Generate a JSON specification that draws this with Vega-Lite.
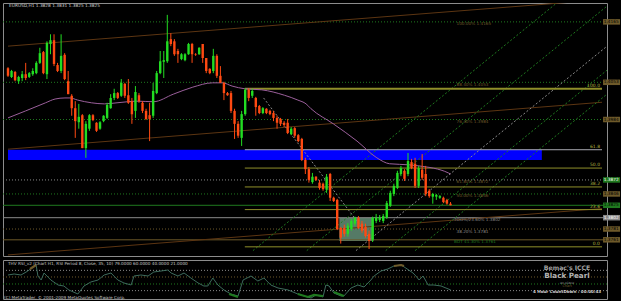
{
  "$schema": "https://vega.github.io/schema/vega-lite/v6.json",
  "background": "#000000",
  "padding": {"left": 2, "top": 2, "right": 0, "bottom": 0},
  "spacing": 2,
  "config": {
    "view": {"stroke": "#8c8c8c", "strokeWidth": 1},
    "axis": {"labelFont": "DejaVu Sans", "labelFontSize": 4.5, "labelColor": "#c8c8c8", "tickColor": "#8c8c8c", "domain": false, "grid": false, "titleFontSize": 1},
    "text": {"font": "DejaVu Sans"}
  },
  "datasets": {
    "candles": [
      {"b":0,"o":1.4079,"h":1.4081,"l":1.4063,"c":1.4065},{"b":1,"o":1.4063,"h":1.4076,"l":1.4061,"c":1.4074},{"b":2,"o":1.4072,"h":1.4074,"l":1.4055,"c":1.4057},{"b":3,"o":1.4055,"h":1.4065,"l":1.4050,"c":1.4063},{"b":4,"o":1.4061,"h":1.4074,"l":1.4055,"c":1.4068},{"b":5,"o":1.4068,"h":1.4089,"l":1.4057,"c":1.4061},{"b":6,"o":1.4063,"h":1.4072,"l":1.4061,"c":1.4070},{"b":7,"o":1.4068,"h":1.4079,"l":1.4065,"c":1.4074},{"b":8,"o":1.4070,"h":1.4092,"l":1.4068,"c":1.4089},{"b":9,"o":1.4089,"h":1.4117,"l":1.4087,"c":1.4107},
      {"b":10,"o":1.4109,"h":1.4111,"l":1.4068,"c":1.4070},{"b":11,"o":1.4068,"h":1.4129,"l":1.4059,"c":1.4126},{"b":12,"o":1.4124,"h":1.4142,"l":1.4105,"c":1.4131},{"b":13,"o":1.4131,"h":1.4142,"l":1.4083,"c":1.4087},{"b":14,"o":1.4085,"h":1.4089,"l":1.4072,"c":1.4074},{"b":15,"o":1.4074,"h":1.4142,"l":1.4070,"c":1.4102},{"b":16,"o":1.4104,"h":1.4107,"l":1.4057,"c":1.4059},{"b":17,"o":1.4055,"h":1.4074,"l":1.4031,"c":1.4031},{"b":18,"o":1.4028,"h":1.4031,"l":1.3991,"c":1.4005},{"b":19,"o":1.4005,"h":1.4018,"l":1.3950,"c":1.3981},
      {"b":20,"o":1.3979,"h":1.4013,"l":1.3967,"c":1.3989},{"b":21,"o":1.3992,"h":1.3994,"l":1.3931,"c":1.3931},{"b":22,"o":1.3931,"h":1.3981,"l":1.3913,"c":1.3976},{"b":23,"o":1.3967,"h":1.3994,"l":1.3963,"c":1.3992},{"b":24,"o":1.3992,"h":1.3994,"l":1.3981,"c":1.3983},{"b":25,"o":1.3978,"h":1.3979,"l":1.3961,"c":1.3963},{"b":26,"o":1.3967,"h":1.3981,"l":1.3965,"c":1.3979},{"b":27,"o":1.3981,"h":1.3992,"l":1.3979,"c":1.3991},{"b":28,"o":1.3987,"h":1.4015,"l":1.3985,"c":1.4011},{"b":29,"o":1.4005,"h":1.4031,"l":1.4004,"c":1.4024},
      {"b":30,"o":1.4024,"h":1.4041,"l":1.4020,"c":1.4033},{"b":31,"o":1.4033,"h":1.4035,"l":1.4022,"c":1.4024},{"b":32,"o":1.4028,"h":1.4059,"l":1.4026,"c":1.4052},{"b":33,"o":1.4050,"h":1.4052,"l":1.4024,"c":1.4028},{"b":34,"o":1.4029,"h":1.4059,"l":1.4013,"c":1.4015},{"b":35,"o":1.4018,"h":1.4024,"l":1.3976,"c":1.3994},{"b":36,"o":1.4000,"h":1.4046,"l":1.3987,"c":1.4035},{"b":37,"o":1.4029,"h":1.4033,"l":1.4015,"c":1.4018},{"b":38,"o":1.4015,"h":1.4018,"l":1.3996,"c":1.4000},{"b":39,"o":1.4000,"h":1.4004,"l":1.3983,"c":1.3985},
      {"b":40,"o":1.3992,"h":1.4015,"l":1.3944,"c":1.3985},{"b":41,"o":1.3991,"h":1.4052,"l":1.3987,"c":1.4037},{"b":42,"o":1.4033,"h":1.4074,"l":1.4031,"c":1.4070},{"b":43,"o":1.4070,"h":1.4111,"l":1.4068,"c":1.4092},{"b":44,"o":1.4091,"h":1.4111,"l":1.4061,"c":1.4094},{"b":45,"o":1.4092,"h":1.4178,"l":1.4089,"c":1.4129},{"b":46,"o":1.4133,"h":1.4144,"l":1.4120,"c":1.4124},{"b":47,"o":1.4129,"h":1.4133,"l":1.4102,"c":1.4105},{"b":48,"o":1.4111,"h":1.4115,"l":1.4089,"c":1.4105},{"b":49,"o":1.4096,"h":1.4107,"l":1.4094,"c":1.4105},
      {"b":50,"o":1.4094,"h":1.4107,"l":1.4092,"c":1.4105},{"b":51,"o":1.4105,"h":1.4126,"l":1.4104,"c":1.4124},{"b":52,"o":1.4124,"h":1.4126,"l":1.4089,"c":1.4105},{"b":53,"o":1.4105,"h":1.4107,"l":1.4102,"c":1.4104},{"b":54,"o":1.4105,"h":1.4118,"l":1.4104,"c":1.4117},{"b":55,"o":1.4124,"h":1.4124,"l":1.4089,"c":1.4098},{"b":56,"o":1.4098,"h":1.4098,"l":1.4070,"c":1.4074},{"b":57,"o":1.4078,"h":1.4079,"l":1.4068,"c":1.4070},{"b":58,"o":1.4074,"h":1.4115,"l":1.4070,"c":1.4102},{"b":59,"o":1.4102,"h":1.4105,"l":1.4061,"c":1.4065},
      {"b":60,"o":1.4065,"h":1.4083,"l":1.4052,"c":1.4052},{"b":61,"o":1.4052,"h":1.4054,"l":1.4020,"c":1.4033},{"b":62,"o":1.4033,"h":1.4035,"l":1.4028,"c":1.4029},{"b":63,"o":1.4033,"h":1.4037,"l":1.3996,"c":1.4000},{"b":64,"o":1.4000,"h":1.4004,"l":1.3948,"c":1.3976},{"b":65,"o":1.3976,"h":1.3981,"l":1.3950,"c":1.3954},{"b":66,"o":1.3950,"h":1.4000,"l":1.3935,"c":1.3994},{"b":67,"o":1.3994,"h":1.4042,"l":1.3991,"c":1.4039},{"b":68,"o":1.4039,"h":1.4042,"l":1.4018,"c":1.4024},{"b":69,"o":1.4028,"h":1.4041,"l":1.4024,"c":1.4037},
      {"b":70,"o":1.4024,"h":1.4026,"l":1.3991,"c":1.4007},{"b":71,"o":1.4009,"h":1.4011,"l":1.3994,"c":1.3996},{"b":72,"o":1.3996,"h":1.4007,"l":1.3994,"c":1.4005},{"b":73,"o":1.4004,"h":1.4005,"l":1.3994,"c":1.3996},{"b":74,"o":1.4000,"h":1.4002,"l":1.3992,"c":1.3994},{"b":75,"o":1.3996,"h":1.4000,"l":1.3981,"c":1.3987},{"b":76,"o":1.3987,"h":1.3991,"l":1.3967,"c":1.3978},{"b":77,"o":1.3985,"h":1.3987,"l":1.3972,"c":1.3976},{"b":78,"o":1.3978,"h":1.3981,"l":1.3970,"c":1.3974},{"b":79,"o":1.3978,"h":1.3985,"l":1.3957,"c":1.3959},
      {"b":80,"o":1.3957,"h":1.3970,"l":1.3955,"c":1.3967},{"b":81,"o":1.3968,"h":1.3970,"l":1.3950,"c":1.3954},{"b":82,"o":1.3955,"h":1.3957,"l":1.3942,"c":1.3944},{"b":83,"o":1.3948,"h":1.3950,"l":1.3907,"c":1.3909},{"b":84,"o":1.3909,"h":1.3913,"l":1.3883,"c":1.3892},{"b":85,"o":1.3892,"h":1.3896,"l":1.3867,"c":1.3872},{"b":86,"o":1.3868,"h":1.3885,"l":1.3865,"c":1.3878},{"b":87,"o":1.3878,"h":1.3879,"l":1.3870,"c":1.3872},{"b":88,"o":1.3867,"h":1.3872,"l":1.3854,"c":1.3857},{"b":89,"o":1.3865,"h":1.3867,"l":1.3852,"c":1.3855},
      {"b":90,"o":1.3854,"h":1.3883,"l":1.3848,"c":1.3878},{"b":91,"o":1.3883,"h":1.3885,"l":1.3833,"c":1.3839},{"b":92,"o":1.3839,"h":1.3841,"l":1.3831,"c":1.3833},{"b":93,"o":1.3835,"h":1.3837,"l":1.3779,"c":1.3781},{"b":94,"o":1.3783,"h":1.3785,"l":1.3754,"c":1.3765},{"b":95,"o":1.3783,"h":1.3789,"l":1.3767,"c":1.3772},{"b":96,"o":1.3772,"h":1.3792,"l":1.3767,"c":1.3787},{"b":97,"o":1.3781,"h":1.3800,"l":1.3778,"c":1.3796},{"b":98,"o":1.3791,"h":1.3804,"l":1.3787,"c":1.3802},{"b":99,"o":1.3802,"h":1.3805,"l":1.3781,"c":1.3783},
      {"b":100,"o":1.3791,"h":1.3796,"l":1.3774,"c":1.3778},{"b":101,"o":1.3785,"h":1.3791,"l":1.3765,"c":1.3768},{"b":102,"o":1.3772,"h":1.3778,"l":1.3744,"c":1.3759},{"b":103,"o":1.3761,"h":1.3804,"l":1.3757,"c":1.3802},{"b":104,"o":1.3796,"h":1.3809,"l":1.3792,"c":1.3802},{"b":105,"o":1.3798,"h":1.3807,"l":1.3794,"c":1.3802},{"b":106,"o":1.3796,"h":1.3809,"l":1.3792,"c":1.3805},{"b":107,"o":1.3802,"h":1.3833,"l":1.3800,"c":1.3829},{"b":108,"o":1.3824,"h":1.3852,"l":1.3822,"c":1.3848},{"b":109,"o":1.3846,"h":1.3865,"l":1.3842,"c":1.3861},
      {"b":110,"o":1.3857,"h":1.3889,"l":1.3855,"c":1.3885},{"b":111,"o":1.3883,"h":1.3898,"l":1.3879,"c":1.3894},{"b":112,"o":1.3889,"h":1.3892,"l":1.3870,"c":1.3874},{"b":113,"o":1.3883,"h":1.3922,"l":1.3879,"c":1.3907},{"b":114,"o":1.3905,"h":1.3911,"l":1.3892,"c":1.3894},{"b":115,"o":1.3902,"h":1.3913,"l":1.3857,"c":1.3861},{"b":116,"o":1.3861,"h":1.3898,"l":1.3857,"c":1.3894},{"b":117,"o":1.3891,"h":1.3920,"l":1.3872,"c":1.3876},{"b":118,"o":1.3883,"h":1.3898,"l":1.3842,"c":1.3846},{"b":119,"o":1.3852,"h":1.3855,"l":1.3839,"c":1.3842},
      {"b":120,"o":1.3841,"h":1.3848,"l":1.3828,"c":1.3846},{"b":121,"o":1.3841,"h":1.3846,"l":1.3835,"c":1.3844},{"b":122,"o":1.3839,"h":1.3844,"l":1.3837,"c":1.3842},{"b":123,"o":1.3839,"h":1.3841,"l":1.3829,"c":1.3831},{"b":124,"o":1.3835,"h":1.3837,"l":1.3826,"c":1.3828},{"b":125,"o":1.3828,"h":1.3831,"l":1.3825,"c":1.3825}
    ],
    "ma": [
      {"b":0,"p":1.3987},{"b":5,"p":1.4000},{"b":10.6,"p":1.4015},{"b":13.3,"p":1.4022},{"b":16.1,"p":1.4024},{"b":17.5,"p":1.4024},{"b":19.7,"p":1.4020},{"b":23.6,"p":1.4015},{"b":27.2,"p":1.4013},{"b":30.8,"p":1.4015},{"b":36.4,"p":1.4018},{"b":41.1,"p":1.4017},{"b":46.7,"p":1.4031},{"b":52.2,"p":1.4044},{"b":57.8,"p":1.4052},{"b":60.6,"p":1.4052},{"b":63.3,"p":1.4046},{"b":66.9,"p":1.4041},{"b":71.7,"p":1.4039},{"b":78.1,"p":1.4029},{"b":81.9,"p":1.4020},{"b":84.2,"p":1.4013},{"b":85.6,"p":1.4004},{"b":91.9,"p":1.3976},{"b":98.6,"p":1.3944},{"b":104.2,"p":1.3913},{"b":107.8,"p":1.3902},{"b":113.3,"p":1.3900},{"b":116.1,"p":1.3898},{"b":124.4,"p":1.3885},{"b":125,"p":1.3883}
    ],
    "rsi": [
      {"b":1.4,"r":65.7},{"b":3.1,"r":68.6},{"b":5,"r":65.7},{"b":6.9,"r":77.1},{"b":8.3,"r":88.6},{"b":9.2,"r":94.3},{"b":9.7,"r":62.9},{"b":10.6,"r":51.4},{"b":11.4,"r":71.4},{"b":13.3,"r":51.4},{"b":15.3,"r":37.1},{"b":16.9,"r":34.3},{"b":18.3,"r":22.9},{"b":20.8,"r":11.4},{"b":22.5,"r":34.3},{"b":24.4,"r":45.7},{"b":26.4,"r":51.4},{"b":28.1,"r":65.7},{"b":30,"r":71.4},{"b":31.9,"r":51.4},{"b":33.6,"r":42.9},{"b":35.6,"r":37.1},{"b":36.4,"r":62.9},{"b":38.3,"r":65.7},{"b":40.3,"r":62.9},{"b":41.9,"r":74.3},{"b":43.9,"r":77.1},{"b":45.8,"r":80},{"b":46.7,"r":71.4},{"b":48.6,"r":62.9},{"b":50.3,"r":71.4},{"b":52.2,"r":57.1},{"b":54.2,"r":42.9},{"b":55.8,"r":34.3},{"b":56.9,"r":34.3},{"b":58.3,"r":57.1},{"b":59.7,"r":37.1},{"b":61.4,"r":22.9},{"b":63.3,"r":11.4},{"b":65.3,"r":5.7},{"b":66.7,"r":51.4},{"b":68.9,"r":62.9},{"b":70.8,"r":48.6},{"b":72.5,"r":57.1},{"b":74.4,"r":37.1},{"b":76.4,"r":28.6},{"b":79.2,"r":22.9},{"b":81.9,"r":11.4},{"b":83.6,"r":5.7},{"b":85.6,"r":0},{"b":86.9,"r":8.6},{"b":88.9,"r":2.9},{"b":89.7,"r":37.1},{"b":90.6,"r":34.3},{"b":91.9,"r":14.3},{"b":93.9,"r":5.7},{"b":94.7,"r":5.7},{"b":96.7,"r":28.6},{"b":98.6,"r":37.1},{"b":100.3,"r":31.4},{"b":102.2,"r":51.4},{"b":103.1,"r":62.9},{"b":105,"r":77.1},{"b":106.9,"r":82.9},{"b":108.6,"r":91.4},{"b":110.6,"r":94.3},{"b":111.9,"r":85.7},{"b":113.9,"r":71.4},{"b":114.7,"r":62.9},{"b":115.6,"r":51.4},{"b":116.7,"r":62.9},{"b":118.1,"r":37.1},{"b":119.7,"r":37.1},{"b":121.7,"r":34.3},{"b":124.4,"r":22.9}
    ],
    "rsihl": [
      {"seg":"ob1","zone":"overbought","b":7.5,"r":82.9},{"seg":"ob1","zone":"overbought","b":9.2,"r":94.3},
      {"seg":"os1","zone":"oversold","b":62.8,"r":11.4},{"seg":"os1","zone":"oversold","b":65.3,"r":2.9},
      {"seg":"os2","zone":"oversold","b":81.9,"r":11.4},{"seg":"os2","zone":"oversold","b":84.7,"r":2.9},{"seg":"os2","zone":"oversold","b":86.4,"r":8.6},{"seg":"os2","zone":"oversold","b":88.9,"r":5.7},
      {"seg":"os3","zone":"oversold","b":91.9,"r":17},{"seg":"os3","zone":"oversold","b":94.7,"r":5.7},
      {"seg":"ob2","zone":"overbought","b":108.6,"r":91.4},{"seg":"ob2","zone":"overbought","b":110.6,"r":94.3},{"seg":"ob2","zone":"overbought","b":111.4,"r":91.4}
    ]
  },
  "vconcat": [
    {
      "width": 604,
      "height": 253,
      "layer": [
        {
          "data": {"values": [{"p": 1.4185}]},
          "mark": {"type": "rule", "opacity": 0},
          "encoding": {
            "y": {"field": "p", "type": "quantitative", "scale": {"domain": [1.3731, 1.42]}, "title": null,
              "axis": {"orient": "right", "values": [1.3735,1.3765,1.3795,1.3825,1.3855,1.3885,1.3915,1.3945,1.3975,1.4005,1.4035,1.4065,1.4095,1.4125,1.4155,1.4185], "format": ".4f", "tickSize": 2, "labelPadding": 1, "labelFontSize": 4.5}}
          }
        },
        {
          "data": {"values": [{"zone": "supply", "b": 0, "b2": 150.8, "p": 1.3928, "p2": 1.3909}]},
          "mark": {"type": "rect", "color": "#0000ff", "clip": true},
          "encoding": {
            "x": {"field": "b", "type": "quantitative", "scale": {"domain": [0, 167.8]}, "axis": null},
            "x2": {"field": "b2"},
            "y": {"field": "p", "type": "quantitative", "scale": {"domain": [1.3731, 1.42]}, "axis": null},
            "y2": {"field": "p2"}
          }
        },
        {
          "data": {"values": [{"zone": "range", "b": 93.6, "b2": 103.3, "p": 1.3802, "p2": 1.3759}]},
          "mark": {"type": "rect", "color": "#557a66", "clip": true},
          "encoding": {
            "x": {"field": "b", "type": "quantitative", "scale": {"domain": [0, 167.8]}, "axis": null},
            "x2": {"field": "b2"},
            "y": {"field": "p", "type": "quantitative", "scale": {"domain": [1.3731, 1.42]}, "axis": null},
            "y2": {"field": "p2"}
          }
        },
        {
          "data": {"values": [
            {"p": 1.4165, "k": "green"}, {"p": 1.4053, "k": "green"}, {"p": 1.3984, "k": "green"},
            {"p": 1.3872, "k": "gray"}, {"p": 1.3846, "k": "green"}, {"p": 1.3781, "k": "olive"}
          ]},
          "mark": {"type": "rule", "strokeDash": [1, 2], "strokeWidth": 1},
          "encoding": {
            "y": {"field": "p", "type": "quantitative", "scale": {"domain": [1.3731, 1.42]}, "axis": null},
            "color": {"field": "k", "type": "nominal", "legend": null, "scale": {"domain": ["green", "gray", "olive"], "range": ["#1f7a1f", "#8a8a8a", "#6e5a2a"]}}
          }
        },
        {
          "data": {"values": [
            {"p": 1.3825, "k": "bid"}, {"p": 1.3802, "k": "top"}, {"p": 1.3761, "k": "bottom"}
          ]},
          "mark": {"type": "rule", "strokeWidth": 1},
          "encoding": {
            "y": {"field": "p", "type": "quantitative", "scale": {"domain": [1.3731, 1.42]}, "axis": null},
            "color": {"field": "k", "type": "nominal", "legend": null, "scale": {"domain": ["bid", "top", "bottom"], "range": ["#6f5fb8", "#9a0000", "#2a9a2a"]}}
          }
        },
        {
          "data": {"values": [
            {"line": "A", "b": 0, "p": 1.4120}, {"line": "A", "b": 167.8, "p": 1.4206},
            {"line": "B", "b": 0, "p": 1.3929}, {"line": "B", "b": 167.8, "p": 1.4016},
            {"line": "C", "b": 0, "p": 1.3733}, {"line": "C", "b": 167.8, "p": 1.3819}
          ]},
          "mark": {"type": "line", "color": "#5c3512", "strokeWidth": 1, "clip": true},
          "encoding": {
            "x": {"field": "b", "type": "quantitative", "scale": {"domain": [0, 167.8]}, "axis": null},
            "y": {"field": "p", "type": "quantitative", "scale": {"domain": [1.3731, 1.42]}, "axis": null},
            "detail": {"field": "line"}
          }
        },
        {
          "data": {"values": [
            {"g": "1", "k": "orange", "b": 69.2, "p": 1.3741}, {"g": "1", "k": "orange", "b": 155.0, "p": 1.4200},
            {"g": "2", "k": "orange", "b": 84.4, "p": 1.3741}, {"g": "2", "k": "orange", "b": 170.3, "p": 1.4200},
            {"g": "3", "k": "red", "b": 98.3, "p": 1.3741}, {"g": "3", "k": "red", "b": 184.2, "p": 1.4200},
            {"g": "4", "k": "green", "b": 106.7, "p": 1.3741}, {"g": "4", "k": "green", "b": 192.5, "p": 1.4200},
            {"g": "5", "k": "green", "b": 115.0, "p": 1.3741}, {"g": "5", "k": "green", "b": 200.8, "p": 1.4200},
            {"g": "6", "k": "red", "b": 72.2, "p": 1.4024}, {"g": "6", "k": "red", "b": 102.8, "p": 1.3759}
          ]},
          "mark": {"type": "line", "strokeWidth": 1, "strokeDash": [2, 2], "clip": true},
          "encoding": {
            "x": {"field": "b", "type": "quantitative", "scale": {"domain": [0, 167.8]}, "axis": null},
            "y": {"field": "p", "type": "quantitative", "scale": {"domain": [1.3731, 1.42]}, "axis": null},
            "detail": {"field": "g"},
            "color": {"field": "k", "type": "nominal", "legend": null, "scale": {"domain": ["orange", "red", "green"], "range": ["#7a4a1a", "#7a1e14", "#1f6a3a"]}}
          }
        },
        {
          "data": {"values": [
            {"lvl": "100.0", "b": 66.9, "b2": 167.8, "p": 1.4041},
            {"lvl": "61.8", "b": 66.9, "b2": 167.8, "p": 1.3928},
            {"lvl": "50.0", "b": 66.9, "b2": 167.8, "p": 1.3894},
            {"lvl": "38.2", "b": 66.9, "b2": 167.8, "p": 1.3859},
            {"lvl": "23.6", "b": 66.9, "b2": 167.8, "p": 1.3817},
            {"lvl": "0.0", "b": 66.9, "b2": 167.8, "p": 1.3748}
          ]},
          "layer": [
            {
              "mark": {"type": "rule", "clip": true},
              "encoding": {
                "x": {"field": "b", "type": "quantitative", "scale": {"domain": [0, 167.8]}, "axis": null},
                "x2": {"field": "b2"},
                "y": {"field": "p", "type": "quantitative", "scale": {"domain": [1.3731, 1.42]}, "axis": null},
                "color": {"condition": {"test": "datum.lvl == '61.8'", "value": "#a8a8b0"}, "value": "#8f8f2a"},
                "strokeWidth": {"condition": {"test": "datum.lvl == '100.0'", "value": 2}, "value": 1}
              }
            },
            {
              "mark": {"type": "text", "align": "right", "baseline": "bottom", "dy": -1, "dx": -2, "fontSize": 4.5, "color": "#b4b440"},
              "encoding": {
                "x": {"field": "b2", "type": "quantitative", "scale": {"domain": [0, 167.8]}, "axis": null},
                "y": {"field": "p", "type": "quantitative", "scale": {"domain": [1.3731, 1.42]}, "axis": null},
                "text": {"field": "lvl"}
              }
            }
          ]
        },
        {
          "data": {"name": "ma"},
          "mark": {"type": "line", "color": "#9b5f9b", "strokeWidth": 1, "interpolate": "monotone", "clip": true},
          "encoding": {
            "x": {"field": "b", "type": "quantitative", "scale": {"domain": [0, 167.8]}, "axis": null},
            "y": {"field": "p", "type": "quantitative", "scale": {"domain": [1.3731, 1.42]}, "axis": null}
          }
        },
        {
          "data": {"name": "candles"},
          "mark": {"type": "rule", "strokeWidth": 1, "clip": true},
          "encoding": {
            "x": {"field": "b", "type": "quantitative", "scale": {"domain": [0, 167.8]}, "axis": null},
            "y": {"field": "l", "type": "quantitative", "scale": {"domain": [1.3731, 1.42]}, "axis": null},
            "y2": {"field": "h"},
            "color": {"condition": {"test": "datum.c < datum.o", "value": "#ff4a12"}, "value": "#22dd22"}
          }
        },
        {
          "data": {"name": "candles"},
          "mark": {"type": "bar", "width": 2.4, "clip": true},
          "encoding": {
            "x": {"field": "b", "type": "quantitative", "scale": {"domain": [0, 167.8]}, "axis": null},
            "y": {"field": "o", "type": "quantitative", "scale": {"domain": [1.3731, 1.42]}, "axis": null},
            "y2": {"field": "c"},
            "color": {"condition": {"test": "datum.c < datum.o", "value": "#ff4a12"}, "value": "#22dd22"}
          }
        },
        {
          "data": {"values": [
            {"b": 126.7, "p": 1.4165, "t": "100.00%  1.4165", "k": "olive"},
            {"b": 126.7, "p": 1.4053, "t": "88.40%  1.4053", "k": "olive"},
            {"b": 126.7, "p": 1.3984, "t": "76.40%  1.3984", "k": "olive"},
            {"b": 126.7, "p": 1.3872, "t": "61.80%  1.3872", "k": "olive"},
            {"b": 126.7, "p": 1.3846, "t": "50.00%  1.3846", "k": "olive"},
            {"b": 126.0, "p": 1.3802, "t": "TOO%/23.60%  1.3802", "k": "red"},
            {"b": 126.7, "p": 1.3781, "t": "38.20%  1.3781", "k": "gray"},
            {"b": 126.0, "p": 1.3761, "t": "BOT 41.30%  1.3761", "k": "green"}
          ]},
          "mark": {"type": "text", "align": "left", "baseline": "top", "dy": 0.5, "fontSize": 4.2},
          "encoding": {
            "x": {"field": "b", "type": "quantitative", "scale": {"domain": [0, 167.8]}, "axis": null},
            "y": {"field": "p", "type": "quantitative", "scale": {"domain": [1.3731, 1.42]}, "axis": null},
            "text": {"field": "t"},
            "color": {"field": "k", "type": "nominal", "legend": null, "scale": {"domain": ["olive", "red", "gray", "green"], "range": ["#8a8a3a", "#c02020", "#8a8a8a", "#22bb22"]}}
          }
        },
        {
          "data": {"values": [
            {"p": 1.4165, "t": "1.4165", "k": "level"}, {"p": 1.4053, "t": "1.4053", "k": "level"},
            {"p": 1.3984, "t": "1.3984", "k": "level"}, {"p": 1.3872, "t": "1.3872", "k": "dark"},
            {"p": 1.3846, "t": "1.3846", "k": "level"}, {"p": 1.3825, "t": "1.3825", "k": "bid"},
            {"p": 1.3802, "t": "1.3802", "k": "top"}, {"p": 1.3781, "t": "1.3781", "k": "olive"},
            {"p": 1.3761, "t": "1.3761", "k": "bottom"}
          ]},
          "layer": [
            {
              "mark": {"type": "tick", "orient": "horizontal", "thickness": 5.5, "size": 17, "clip": false, "opacity": 1},
              "encoding": {
                "x": {"datum": 170.5, "type": "quantitative", "scale": {"domain": [0, 167.8]}, "axis": null},
                "y": {"field": "p", "type": "quantitative", "scale": {"domain": [1.3731, 1.42]}, "axis": null},
                "color": {"field": "k", "type": "nominal", "legend": null, "scale": {"domain": ["level", "dark", "bid", "top", "olive", "bottom"], "range": ["#1d9a1d", "#0f4a0f", "#ffffff", "#ff1010", "#8a8a20", "#22ff22"]}}
              }
            },
            {
              "mark": {"type": "text", "align": "left", "baseline": "middle", "fontSize": 4.3, "clip": false},
              "encoding": {
                "x": {"datum": 168.3, "type": "quantitative", "scale": {"domain": [0, 167.8]}, "axis": null},
                "y": {"field": "p", "type": "quantitative", "scale": {"domain": [1.3731, 1.42]}, "axis": null},
                "text": {"field": "t"},
                "color": {"condition": {"test": "datum.k == 'top' || datum.k == 'dark'", "value": "#ffffff"}, "value": "#000000"}
              }
            }
          ]
        },
        {
          "data": {"values": [{"b": 0.3, "p": 1.4195, "t": "EURUSD,H1  1.3828 1.3831 1.3825 1.3825"}]},
          "mark": {"type": "text", "align": "left", "baseline": "middle", "fontSize": 4.3, "color": "#d0d0d0"},
          "encoding": {
            "x": {"field": "b", "type": "quantitative", "scale": {"domain": [0, 167.8]}, "axis": null},
            "y": {"field": "p", "type": "quantitative", "scale": {"domain": [1.3731, 1.42]}, "axis": null},
            "text": {"field": "t"}
          }
        }
      ]
    },
    {
      "width": 604,
      "height": 39,
      "layer": [
        {
          "data": {"values": [{"r": 79, "k": "upper"}, {"r": 60, "k": "mid-high"}, {"r": 40, "k": "mid-low"}, {"r": 21, "k": "lower"}]},
          "mark": {"type": "rule", "strokeDash": [1, 2], "strokeWidth": 1},
          "encoding": {
            "x": {"datum": 0, "type": "quantitative", "scale": {"domain": [0, 167.8]},
              "axis": {"orient": "bottom", "values": [0, 8, 16, 24, 32, 40, 48, 56, 64, 72, 80, 88, 96, 104, 112, 120],
                "labelExpr": "['9 Jun 2009','10 Jun 00:00','10 Jun 08:00','10 Jun 16:00','11 Jun 00:00','11 Jun 08:00','11 Jun 16:00','12 Jun 00:00','12 Jun 08:00','12 Jun 16:00','14 Jun 22:00','15 Jun 06:00','15 Jun 14:00','15 Jun 22:00','16 Jun 06:00','16 Jun 14:00'][round(datum.value/8)]",
                "labelAlign": "left", "labelOffset": 1, "tickSize": 2, "labelPadding": 1, "labelFontSize": 4.5, "title": null}},
            "x2": {"datum": 167.8},
            "y": {"field": "r", "type": "quantitative", "scale": {"domain": [-2.9, 108.6]}, "title": null,
              "axis": {"orient": "right", "values": [0, 100], "tickSize": 2, "labelPadding": 1, "labelFontSize": 4.5}},
            "color": {"field": "k", "type": "nominal", "legend": null, "scale": {"domain": ["upper", "mid-high", "mid-low", "lower"], "range": ["#1f8a1f", "#8a1f1f", "#1f8a1f", "#8a1f1f"]}}
          }
        },
        {
          "data": {"name": "rsi"},
          "mark": {"type": "line", "color": "#3d6b5c", "strokeWidth": 1, "clip": true},
          "encoding": {
            "x": {"field": "b", "type": "quantitative", "scale": {"domain": [0, 167.8]}, "axis": null},
            "y": {"field": "r", "type": "quantitative", "scale": {"domain": [-2.9, 108.6]}, "axis": null}
          }
        },
        {
          "data": {"name": "rsihl"},
          "mark": {"type": "line", "strokeWidth": 2.2, "clip": true},
          "encoding": {
            "x": {"field": "b", "type": "quantitative", "scale": {"domain": [0, 167.8]}, "axis": null},
            "y": {"field": "r", "type": "quantitative", "scale": {"domain": [-2.9, 108.6]}, "axis": null},
            "detail": {"field": "seg"},
            "color": {"field": "zone", "type": "nominal", "legend": null, "scale": {"domain": ["overbought", "oversold"], "range": ["#ff2020", "#22dd22"]}}
          }
        },
        {
          "data": {"values": [
            {"b": 1.4, "r": 97, "t": "THV RSI_v2  (Chart H1, RSI Period 8, Close, 35, 10)  79.0000 60.0000 40.0000 21.0000"},
            {"b": 0.3, "r": -0.5, "t": "(C) MetaTrader, © 2001-2009 MetaQuotes Software Corp."}
          ]},
          "mark": {"type": "text", "align": "left", "baseline": "middle", "fontSize": 4.2, "color": "#c8c8c8"},
          "encoding": {
            "x": {"field": "b", "type": "quantitative", "scale": {"domain": [0, 167.8]}, "axis": null},
            "y": {"field": "r", "type": "quantitative", "scale": {"domain": [-2.9, 108.6]}, "axis": null},
            "text": {"field": "t"}
          }
        },
        {
          "data": {"values": [{"b": 156.7, "r": 85.7, "t": "Bemac's ICCE"}]},
          "mark": {"type": "text", "align": "center", "baseline": "middle", "fontWeight": "bold", "fontSize": 6.2, "color": "#a0a0a0"},
          "encoding": {
            "x": {"field": "b", "type": "quantitative", "scale": {"domain": [0, 167.8]}, "axis": null},
            "y": {"field": "r", "type": "quantitative", "scale": {"domain": [-2.9, 108.6]}, "axis": null},
            "text": {"field": "t"}
          }
        },
        {
          "data": {"values": [{"b": 156.7, "r": 62, "t": "Black Pearl"}]},
          "mark": {"type": "text", "align": "center", "baseline": "middle", "fontWeight": "bold", "fontSize": 7.2, "color": "#b4b4b4"},
          "encoding": {
            "x": {"field": "b", "type": "quantitative", "scale": {"domain": [0, 167.8]}, "axis": null},
            "y": {"field": "r", "type": "quantitative", "scale": {"domain": [-2.9, 108.6]}, "axis": null},
            "text": {"field": "t"}
          }
        },
        {
          "data": {"values": [{"b": 156.7, "r": 44, "t": "ex place", "k": "status"}, {"b": 156.7, "r": 33, "t": "Chart", "k": "caption"}]},
          "mark": {"type": "text", "align": "center", "baseline": "middle", "fontSize": 3.4},
          "encoding": {
            "x": {"field": "b", "type": "quantitative", "scale": {"domain": [0, 167.8]}, "axis": null},
            "y": {"field": "r", "type": "quantitative", "scale": {"domain": [-2.9, 108.6]}, "axis": null},
            "text": {"field": "t"},
            "color": {"field": "k", "type": "nominal", "legend": null, "scale": {"domain": ["status", "caption"], "range": ["#22aa22", "#a0a0a0"]}}
          }
        },
        {
          "data": {"values": [{"b": 156.7, "r": 16, "t": "4 Hour CountDown :   00:00:43"}]},
          "mark": {"type": "text", "align": "center", "baseline": "middle", "fontWeight": "bold", "fontSize": 4.1, "color": "#d0d0d0"},
          "encoding": {
            "x": {"field": "b", "type": "quantitative", "scale": {"domain": [0, 167.8]}, "axis": null},
            "y": {"field": "r", "type": "quantitative", "scale": {"domain": [-2.9, 108.6]}, "axis": null},
            "text": {"field": "t"}
          }
        }
      ]
    }
  ]
}
